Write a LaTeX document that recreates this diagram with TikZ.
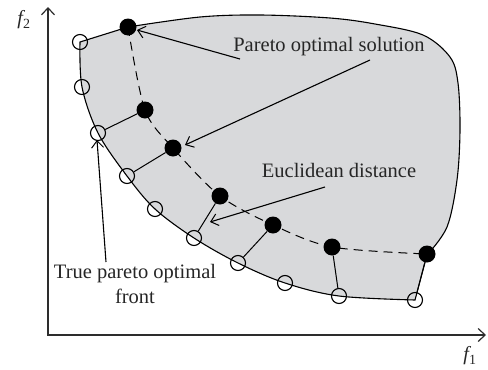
\documentclass[tikz,border=0pt]{standalone}
\usepackage{fontspec}
\setmainfont{Liberation Serif}
\usetikzlibrary{arrows.meta}
\definecolor{regiongray}{RGB}{216,217,219}
\definecolor{axisgray}{RGB}{45,45,45}
\begin{document}
\begin{tikzpicture}[x=1pt,y=-1pt,
  opendot/.style={circle,draw=black,line width=1.1pt,minimum size=15pt,inner sep=0pt},
  filldot/.style={circle,fill=black,minimum size=17pt,inner sep=0pt},
  link/.style={line width=1pt},
  pointer/.style={line width=1.1pt,-{Straight Barb[length=7pt,width=12pt,line width=1pt]}},
  axisline/.style={line width=2pt,draw=axisgray,{Straight Barb[length=7pt,width=13pt,line width=1.2pt]}-{Straight Barb[length=7pt,width=13pt,line width=1.2pt]}},
  lbl/.style={font=\fontsize{20.5}{25}\selectfont,inner sep=0pt,text=black!85},
  axlbl/.style={font=\fontsize{20}{24}\selectfont\itshape,inner sep=0pt,text=black!85}
]
\useasboundingbox (0,0) rectangle (488,370);

% region
\filldraw[fill=regiongray,draw=black,line width=1.1pt]
  (80,42) -- (128,27)
  -- plot[smooth,tension=0.55] coordinates {(128,27) (200,17) (260,15) (330,18) (375,24) (423,35) (450,57) (458,83) (460,130) (457,180) (447,227) (427,255)}
  -- (415,300)
  -- plot[smooth,tension=0.55] coordinates {(415,300) (339,296) (285,283) (238,263) (194,238) (155,209) (127,176) (98,133) (82,87) (80,42)}
  -- cycle;

% axes
\coordinate (ytop) at (48,7);
\coordinate (orig) at (48,335);
\coordinate (xend) at (486,335);
\draw[axisline] (ytop) -- (orig) -- (xend);
\node[axlbl] (f2) at (24,20) {f\textsubscript{\upshape 2}};
\node[axlbl] (f1) at (470,356) {f\textsubscript{\upshape 1}};

% open circles (true front)
\node[opendot] (o1) at (80,42) {};
\node[opendot] (o2) at (82,87) {};
\node[opendot] (o3) at (98,133) {};
\node[opendot] (o4) at (127,176) {};
\node[opendot] (o5) at (155,209) {};
\node[opendot] (o6) at (194,238) {};
\node[opendot] (o7) at (238,263) {};
\node[opendot] (o8) at (285,283) {};
\node[opendot] (o9) at (339,296) {};
\node[opendot] (o10) at (415,300) {};

% filled circles (obtained solutions)
\node[filldot] (p1) at (128,27) {};
\node[filldot] (p2) at (145,110) {};
\node[filldot] (p3) at (173,148) {};
\node[filldot] (p4) at (220,196) {};
\node[filldot] (p5) at (273,225) {};
\node[filldot] (p6) at (332,247) {};
\node[filldot] (p7) at (427,254) {};

% dashed front
\draw[line width=1pt,dash pattern=on 9pt off 6pt]
  plot[smooth,tension=0.5] coordinates {(p1.center) (p2.center) (p3.center) (p4.center) (p5.center) (p6.center) (p7.center)};

% distance links
\draw[link] (p2) -- (o3);
\draw[link] (p3) -- (o4);
\draw[link] (p4) -- (o6);
\draw[link] (p5) -- (o7);
\draw[link] (p6) -- (o9);
\draw[link] (p7) -- (o10);

% labels
\node[lbl] (pos) at (329,47) {Pareto optimal solution};
\node[lbl] (euc) at (339,170) {Euclidean distance};
\node[lbl,align=center] (tru) at (135,284) {True pareto optimal\\front};

\coordinate (posA) at (240,59);
\coordinate (posB) at (370,60);
\coordinate (tipA) at (137,30);
\coordinate (tipB) at (185,145);
\coordinate (eucA) at (325,187);
\coordinate (tipC) at (210,222);
\coordinate (truA) at (106,262);
\coordinate (tipD) at (97,140);

\draw[pointer] (posA) -- (tipA);
\draw[pointer] (posB) -- (tipB);
\draw[pointer] (eucA) -- (tipC);
\draw[pointer] (truA) -- (tipD);
\end{tikzpicture}
\end{document}
